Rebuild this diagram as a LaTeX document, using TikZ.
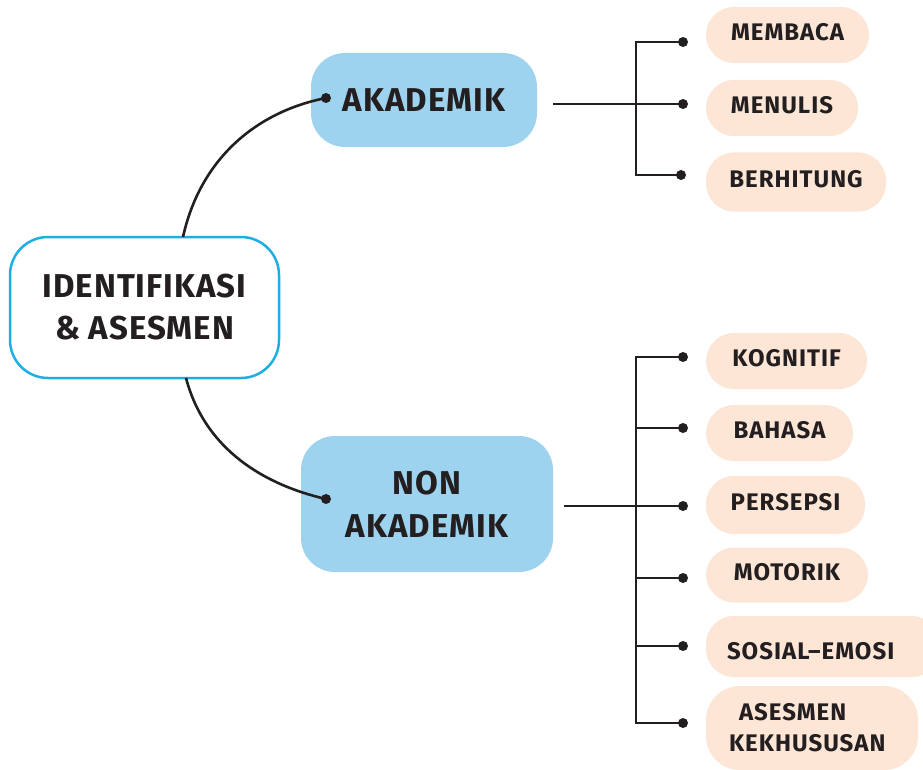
\documentclass[tikz,border=0pt]{standalone}
\usepackage{fontspec}
\setmainfont{Fira Sans}
\newfontfamily\spacedbig[LetterSpace=3.0]{Fira Sans}
\newfontfamily\spacedsmall[LetterSpace=4.2]{Fira Sans}
\newcommand\liftlbl[2]{\raisebox{#1}[\height][\depth]{#2}}
\definecolor{cyanline}{HTML}{1EAEE4}
\definecolor{bluefill}{HTML}{9ED3F0}
\definecolor{peach}{HTML}{FDE6D6}
\definecolor{ink}{HTML}{231F20}
\begin{document}
\begin{tikzpicture}[x=1pt,y=-1pt,
  rootbox/.style={draw=cyanline,line width=2.5pt,fill=white,rounded corners=38pt,
    minimum width=269pt,minimum height=141pt,inner sep=0pt,align=center,
    font=\spacedbig\fontsize{33}{42}\selectfont\bfseries,text=ink},
  midbox/.style={fill=bluefill,rounded corners=34pt,inner sep=0pt,align=center,
    font=\spacedbig\fontsize{33}{43}\selectfont\bfseries,text=ink},
  leaf/.style={fill=peach,rounded corners=28pt,inner sep=0pt,align=center,
    minimum height=56pt,font=\spacedsmall\fontsize{24}{31}\selectfont\bfseries,text=ink},
  conn/.style={draw=ink,line width=2.6pt},
  dotn/.style={circle,fill=ink,inner sep=0pt,minimum size=10pt},
]
\clip (0,0) rectangle (923,770);
\fill[white] (0,0) rectangle (923,770);

% central node
\node[rootbox] (root) at (144.5,307.5) {IDENTIFIKASI\\\& ASESMEN};
\node[midbox,minimum width=226pt,minimum height=94pt] (aka) at (424,100) {AKADEMIK};
\node[midbox,minimum width=252pt,minimum height=136pt] (non) at (427,504) {NON\\AKADEMIK};

% leaves
\node[leaf,minimum width=163pt] (membaca) at (787.5,35) {\liftlbl{2.5pt}{MEMBACA}};
\node[leaf,minimum width=152pt] (menulis) at (782,108) {\liftlbl{2.5pt}{MENULIS}};
\node[leaf,minimum width=180pt,minimum height=59pt] (berhitung) at (796,182) {\liftlbl{2.5pt}{BERHITUNG}};

\node[leaf,minimum width=161pt] (kognitif) at (786.5,361) {\liftlbl{2.5pt}{KOGNITIF}};
\node[leaf,minimum width=147pt] (bahasa) at (779.5,433) {\liftlbl{2.5pt}{BAHASA}};
\node[leaf,minimum width=159pt,minimum height=58pt] (persepsi) at (785.5,505) {\liftlbl{2.5pt}{PERSEPSI}};
\node[leaf,minimum width=162pt,minimum height=55pt] (motorik) at (787,575) {\liftlbl{2.5pt}{MOTORIK}};
\node[leaf,minimum width=234pt,minimum height=61pt,text width=234pt,align=left] (sosial) at (823,646.5) {\hspace*{21pt}\liftlbl{-5pt}{SOSIAL–EMOSI}};
\node[leaf,minimum width=212pt,minimum height=84pt,rounded corners=34pt,text width=212pt,align=left] (asesmen) at (812,728) {\hspace*{33pt}ASESMEN\\\hspace*{23pt}KEKHUSUSAN};

% dots
\node[dotn] (dAka) at (326,98) {};
\node[dotn] (dNon) at (326,499) {};
\node[dotn] (d1) at (683,42) {};
\node[dotn] (d2) at (683,104) {};
\node[dotn] (d3) at (681,175) {};
\node[dotn] (e1) at (683,357) {};
\node[dotn] (e2) at (683,428) {};
\node[dotn] (e3) at (683,506) {};
\node[dotn] (e4) at (683,578) {};
\node[dotn] (e5) at (683,646) {};
\node[dotn] (e6) at (683,723) {};

% junction coordinates
\coordinate (rootTop) at (183,237);
\coordinate (rootBot) at (186,378);
\coordinate (akaOut) at (553,104);
\coordinate (nonOut) at (564,506);
\coordinate (brA) at (636,104);
\coordinate (brB) at (636,506);

% curves
\draw[conn] (rootTop) .. controls (200,160) and (255,112) .. (dAka.center);
\draw[conn] (rootBot) .. controls (205,450) and (265,485) .. (dNon.center);

% upper bracket
\draw[conn] (d1.center) -| (brA) |- (d3.center);
\draw[conn] (akaOut) -- (d2.center);

% lower bracket
\draw[conn] (e1.center) -| (brB) |- (e6.center);
\draw[conn] (nonOut) -- (e3.center);
\draw[conn] (brB |- e2) -- (e2.center);
\draw[conn] (brB |- e4) -- (e4.center);
\draw[conn] (brB |- e5) -- (e5.center);
\end{tikzpicture}
\end{document}
